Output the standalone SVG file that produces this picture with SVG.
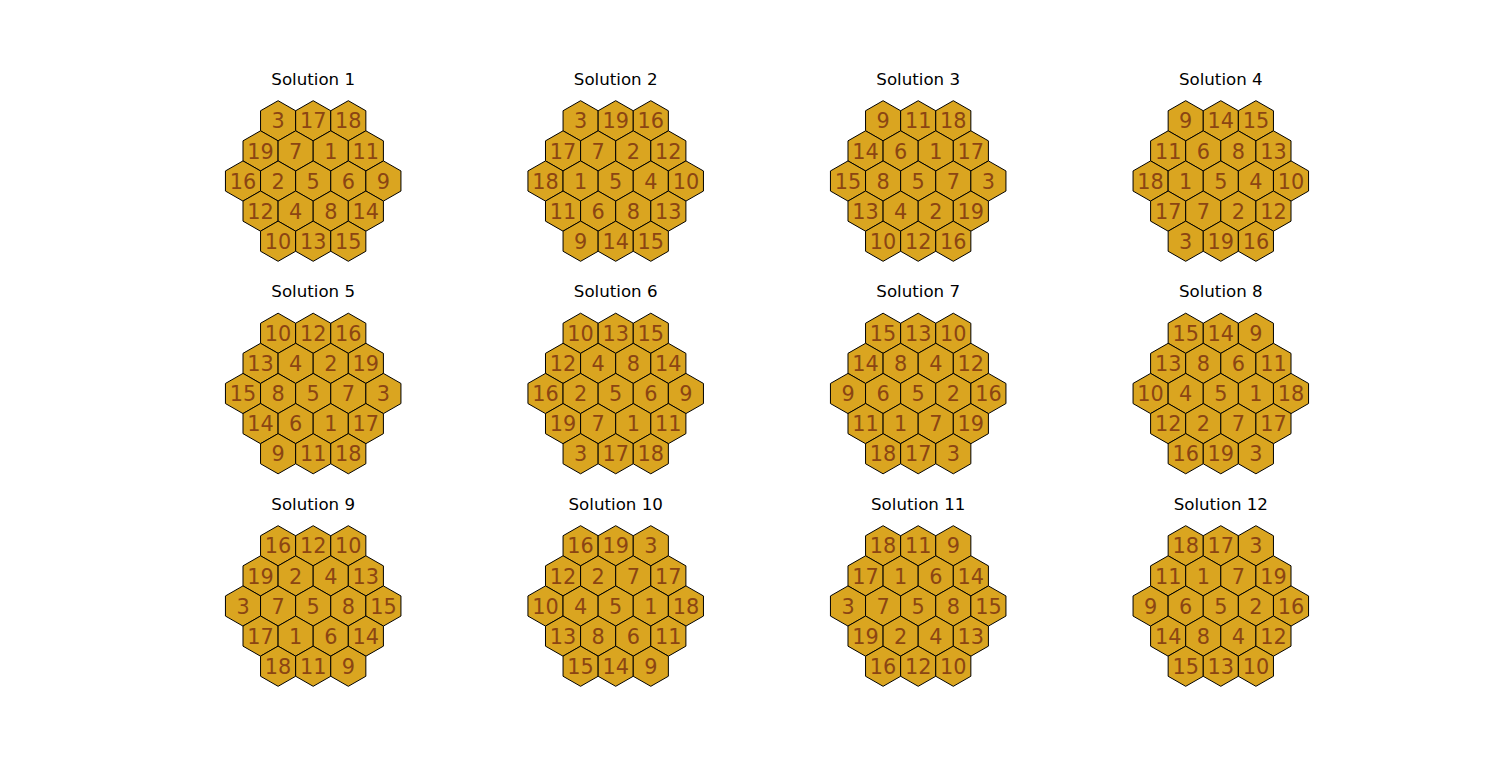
<svg xmlns="http://www.w3.org/2000/svg" xmlns:xlink="http://www.w3.org/1999/xlink" width="1496" height="780" viewBox="0 0 1496 780">
<style>
.t{font-family:"DejaVu Sans",sans-serif;font-size:16.67px;fill:#000;text-anchor:middle}
.c text{font-family:"DejaVu Sans",sans-serif;font-size:20.8px;fill:#8B4513;text-anchor:middle}
.hx{fill:#DAA520;stroke:#000;stroke-width:1;stroke-linejoin:miter}
</style>
<defs>
<polygon id="h" class="hx" points="0,-20.1 17.55,-10.05 17.55,10.05 0,20.1 -17.55,10.05 -17.55,-10.05"/>
</defs>
<rect width="1496" height="780" fill="#fff"/>
<g id="connectors"></g>

<g id="sol1" transform="translate(313.2,181)">
<text class="t" y="-96.4">Solution 1</text>
<g id="s1-1" class="c" transform="translate(-35.1,-60.2)"><use href="#h"/><text y="7.6">3</text></g>
<g id="s1-2" class="c" transform="translate(0,-60.2)"><use href="#h"/><text y="7.6">17</text></g>
<g id="s1-3" class="c" transform="translate(35.1,-60.2)"><use href="#h"/><text y="7.6">18</text></g>
<g id="s1-4" class="c" transform="translate(-52.65,-30.1)"><use href="#h"/><text y="7.6">19</text></g>
<g id="s1-5" class="c" transform="translate(-17.55,-30.1)"><use href="#h"/><text y="7.6">7</text></g>
<g id="s1-6" class="c" transform="translate(17.55,-30.1)"><use href="#h"/><text y="7.6">1</text></g>
<g id="s1-7" class="c" transform="translate(52.65,-30.1)"><use href="#h"/><text y="7.6">11</text></g>
<g id="s1-8" class="c" transform="translate(-70.2,0)"><use href="#h"/><text y="7.6">16</text></g>
<g id="s1-9" class="c" transform="translate(-35.1,0)"><use href="#h"/><text y="7.6">2</text></g>
<g id="s1-10" class="c" transform="translate(0,0)"><use href="#h"/><text y="7.6">5</text></g>
<g id="s1-11" class="c" transform="translate(35.1,0)"><use href="#h"/><text y="7.6">6</text></g>
<g id="s1-12" class="c" transform="translate(70.2,0)"><use href="#h"/><text y="7.6">9</text></g>
<g id="s1-13" class="c" transform="translate(-52.65,30.1)"><use href="#h"/><text y="7.6">12</text></g>
<g id="s1-14" class="c" transform="translate(-17.55,30.1)"><use href="#h"/><text y="7.6">4</text></g>
<g id="s1-15" class="c" transform="translate(17.55,30.1)"><use href="#h"/><text y="7.6">8</text></g>
<g id="s1-16" class="c" transform="translate(52.65,30.1)"><use href="#h"/><text y="7.6">14</text></g>
<g id="s1-17" class="c" transform="translate(-35.1,60.2)"><use href="#h"/><text y="7.6">10</text></g>
<g id="s1-18" class="c" transform="translate(0,60.2)"><use href="#h"/><text y="7.6">13</text></g>
<g id="s1-19" class="c" transform="translate(35.1,60.2)"><use href="#h"/><text y="7.6">15</text></g>
</g>

<g id="sol2" transform="translate(615.7,181)">
<text class="t" y="-96.4">Solution 2</text>
<g id="s2-1" class="c" transform="translate(-35.1,-60.2)"><use href="#h"/><text y="7.6">3</text></g>
<g id="s2-2" class="c" transform="translate(0,-60.2)"><use href="#h"/><text y="7.6">19</text></g>
<g id="s2-3" class="c" transform="translate(35.1,-60.2)"><use href="#h"/><text y="7.6">16</text></g>
<g id="s2-4" class="c" transform="translate(-52.65,-30.1)"><use href="#h"/><text y="7.6">17</text></g>
<g id="s2-5" class="c" transform="translate(-17.55,-30.1)"><use href="#h"/><text y="7.6">7</text></g>
<g id="s2-6" class="c" transform="translate(17.55,-30.1)"><use href="#h"/><text y="7.6">2</text></g>
<g id="s2-7" class="c" transform="translate(52.65,-30.1)"><use href="#h"/><text y="7.6">12</text></g>
<g id="s2-8" class="c" transform="translate(-70.2,0)"><use href="#h"/><text y="7.6">18</text></g>
<g id="s2-9" class="c" transform="translate(-35.1,0)"><use href="#h"/><text y="7.6">1</text></g>
<g id="s2-10" class="c" transform="translate(0,0)"><use href="#h"/><text y="7.6">5</text></g>
<g id="s2-11" class="c" transform="translate(35.1,0)"><use href="#h"/><text y="7.6">4</text></g>
<g id="s2-12" class="c" transform="translate(70.2,0)"><use href="#h"/><text y="7.6">10</text></g>
<g id="s2-13" class="c" transform="translate(-52.65,30.1)"><use href="#h"/><text y="7.6">11</text></g>
<g id="s2-14" class="c" transform="translate(-17.55,30.1)"><use href="#h"/><text y="7.6">6</text></g>
<g id="s2-15" class="c" transform="translate(17.55,30.1)"><use href="#h"/><text y="7.6">8</text></g>
<g id="s2-16" class="c" transform="translate(52.65,30.1)"><use href="#h"/><text y="7.6">13</text></g>
<g id="s2-17" class="c" transform="translate(-35.1,60.2)"><use href="#h"/><text y="7.6">9</text></g>
<g id="s2-18" class="c" transform="translate(0,60.2)"><use href="#h"/><text y="7.6">14</text></g>
<g id="s2-19" class="c" transform="translate(35.1,60.2)"><use href="#h"/><text y="7.6">15</text></g>
</g>

<g id="sol3" transform="translate(918.2,181)">
<text class="t" y="-96.4">Solution 3</text>
<g id="s3-1" class="c" transform="translate(-35.1,-60.2)"><use href="#h"/><text y="7.6">9</text></g>
<g id="s3-2" class="c" transform="translate(0,-60.2)"><use href="#h"/><text y="7.6">11</text></g>
<g id="s3-3" class="c" transform="translate(35.1,-60.2)"><use href="#h"/><text y="7.6">18</text></g>
<g id="s3-4" class="c" transform="translate(-52.65,-30.1)"><use href="#h"/><text y="7.6">14</text></g>
<g id="s3-5" class="c" transform="translate(-17.55,-30.1)"><use href="#h"/><text y="7.6">6</text></g>
<g id="s3-6" class="c" transform="translate(17.55,-30.1)"><use href="#h"/><text y="7.6">1</text></g>
<g id="s3-7" class="c" transform="translate(52.65,-30.1)"><use href="#h"/><text y="7.6">17</text></g>
<g id="s3-8" class="c" transform="translate(-70.2,0)"><use href="#h"/><text y="7.6">15</text></g>
<g id="s3-9" class="c" transform="translate(-35.1,0)"><use href="#h"/><text y="7.6">8</text></g>
<g id="s3-10" class="c" transform="translate(0,0)"><use href="#h"/><text y="7.6">5</text></g>
<g id="s3-11" class="c" transform="translate(35.1,0)"><use href="#h"/><text y="7.6">7</text></g>
<g id="s3-12" class="c" transform="translate(70.2,0)"><use href="#h"/><text y="7.6">3</text></g>
<g id="s3-13" class="c" transform="translate(-52.65,30.1)"><use href="#h"/><text y="7.6">13</text></g>
<g id="s3-14" class="c" transform="translate(-17.55,30.1)"><use href="#h"/><text y="7.6">4</text></g>
<g id="s3-15" class="c" transform="translate(17.55,30.1)"><use href="#h"/><text y="7.6">2</text></g>
<g id="s3-16" class="c" transform="translate(52.65,30.1)"><use href="#h"/><text y="7.6">19</text></g>
<g id="s3-17" class="c" transform="translate(-35.1,60.2)"><use href="#h"/><text y="7.6">10</text></g>
<g id="s3-18" class="c" transform="translate(0,60.2)"><use href="#h"/><text y="7.6">12</text></g>
<g id="s3-19" class="c" transform="translate(35.1,60.2)"><use href="#h"/><text y="7.6">16</text></g>
</g>

<g id="sol4" transform="translate(1220.8,181)">
<text class="t" y="-96.4">Solution 4</text>
<g id="s4-1" class="c" transform="translate(-35.1,-60.2)"><use href="#h"/><text y="7.6">9</text></g>
<g id="s4-2" class="c" transform="translate(0,-60.2)"><use href="#h"/><text y="7.6">14</text></g>
<g id="s4-3" class="c" transform="translate(35.1,-60.2)"><use href="#h"/><text y="7.6">15</text></g>
<g id="s4-4" class="c" transform="translate(-52.65,-30.1)"><use href="#h"/><text y="7.6">11</text></g>
<g id="s4-5" class="c" transform="translate(-17.55,-30.1)"><use href="#h"/><text y="7.6">6</text></g>
<g id="s4-6" class="c" transform="translate(17.55,-30.1)"><use href="#h"/><text y="7.6">8</text></g>
<g id="s4-7" class="c" transform="translate(52.65,-30.1)"><use href="#h"/><text y="7.6">13</text></g>
<g id="s4-8" class="c" transform="translate(-70.2,0)"><use href="#h"/><text y="7.6">18</text></g>
<g id="s4-9" class="c" transform="translate(-35.1,0)"><use href="#h"/><text y="7.6">1</text></g>
<g id="s4-10" class="c" transform="translate(0,0)"><use href="#h"/><text y="7.6">5</text></g>
<g id="s4-11" class="c" transform="translate(35.1,0)"><use href="#h"/><text y="7.6">4</text></g>
<g id="s4-12" class="c" transform="translate(70.2,0)"><use href="#h"/><text y="7.6">10</text></g>
<g id="s4-13" class="c" transform="translate(-52.65,30.1)"><use href="#h"/><text y="7.6">17</text></g>
<g id="s4-14" class="c" transform="translate(-17.55,30.1)"><use href="#h"/><text y="7.6">7</text></g>
<g id="s4-15" class="c" transform="translate(17.55,30.1)"><use href="#h"/><text y="7.6">2</text></g>
<g id="s4-16" class="c" transform="translate(52.65,30.1)"><use href="#h"/><text y="7.6">12</text></g>
<g id="s4-17" class="c" transform="translate(-35.1,60.2)"><use href="#h"/><text y="7.6">3</text></g>
<g id="s4-18" class="c" transform="translate(0,60.2)"><use href="#h"/><text y="7.6">19</text></g>
<g id="s4-19" class="c" transform="translate(35.1,60.2)"><use href="#h"/><text y="7.6">16</text></g>
</g>

<g id="sol5" transform="translate(313.2,393.5)">
<text class="t" y="-96.4">Solution 5</text>
<g id="s5-1" class="c" transform="translate(-35.1,-60.2)"><use href="#h"/><text y="7.6">10</text></g>
<g id="s5-2" class="c" transform="translate(0,-60.2)"><use href="#h"/><text y="7.6">12</text></g>
<g id="s5-3" class="c" transform="translate(35.1,-60.2)"><use href="#h"/><text y="7.6">16</text></g>
<g id="s5-4" class="c" transform="translate(-52.65,-30.1)"><use href="#h"/><text y="7.6">13</text></g>
<g id="s5-5" class="c" transform="translate(-17.55,-30.1)"><use href="#h"/><text y="7.6">4</text></g>
<g id="s5-6" class="c" transform="translate(17.55,-30.1)"><use href="#h"/><text y="7.6">2</text></g>
<g id="s5-7" class="c" transform="translate(52.65,-30.1)"><use href="#h"/><text y="7.6">19</text></g>
<g id="s5-8" class="c" transform="translate(-70.2,0)"><use href="#h"/><text y="7.6">15</text></g>
<g id="s5-9" class="c" transform="translate(-35.1,0)"><use href="#h"/><text y="7.6">8</text></g>
<g id="s5-10" class="c" transform="translate(0,0)"><use href="#h"/><text y="7.6">5</text></g>
<g id="s5-11" class="c" transform="translate(35.1,0)"><use href="#h"/><text y="7.6">7</text></g>
<g id="s5-12" class="c" transform="translate(70.2,0)"><use href="#h"/><text y="7.6">3</text></g>
<g id="s5-13" class="c" transform="translate(-52.65,30.1)"><use href="#h"/><text y="7.6">14</text></g>
<g id="s5-14" class="c" transform="translate(-17.55,30.1)"><use href="#h"/><text y="7.6">6</text></g>
<g id="s5-15" class="c" transform="translate(17.55,30.1)"><use href="#h"/><text y="7.6">1</text></g>
<g id="s5-16" class="c" transform="translate(52.65,30.1)"><use href="#h"/><text y="7.6">17</text></g>
<g id="s5-17" class="c" transform="translate(-35.1,60.2)"><use href="#h"/><text y="7.6">9</text></g>
<g id="s5-18" class="c" transform="translate(0,60.2)"><use href="#h"/><text y="7.6">11</text></g>
<g id="s5-19" class="c" transform="translate(35.1,60.2)"><use href="#h"/><text y="7.6">18</text></g>
</g>

<g id="sol6" transform="translate(615.7,393.5)">
<text class="t" y="-96.4">Solution 6</text>
<g id="s6-1" class="c" transform="translate(-35.1,-60.2)"><use href="#h"/><text y="7.6">10</text></g>
<g id="s6-2" class="c" transform="translate(0,-60.2)"><use href="#h"/><text y="7.6">13</text></g>
<g id="s6-3" class="c" transform="translate(35.1,-60.2)"><use href="#h"/><text y="7.6">15</text></g>
<g id="s6-4" class="c" transform="translate(-52.65,-30.1)"><use href="#h"/><text y="7.6">12</text></g>
<g id="s6-5" class="c" transform="translate(-17.55,-30.1)"><use href="#h"/><text y="7.6">4</text></g>
<g id="s6-6" class="c" transform="translate(17.55,-30.1)"><use href="#h"/><text y="7.6">8</text></g>
<g id="s6-7" class="c" transform="translate(52.65,-30.1)"><use href="#h"/><text y="7.6">14</text></g>
<g id="s6-8" class="c" transform="translate(-70.2,0)"><use href="#h"/><text y="7.6">16</text></g>
<g id="s6-9" class="c" transform="translate(-35.1,0)"><use href="#h"/><text y="7.6">2</text></g>
<g id="s6-10" class="c" transform="translate(0,0)"><use href="#h"/><text y="7.6">5</text></g>
<g id="s6-11" class="c" transform="translate(35.1,0)"><use href="#h"/><text y="7.6">6</text></g>
<g id="s6-12" class="c" transform="translate(70.2,0)"><use href="#h"/><text y="7.6">9</text></g>
<g id="s6-13" class="c" transform="translate(-52.65,30.1)"><use href="#h"/><text y="7.6">19</text></g>
<g id="s6-14" class="c" transform="translate(-17.55,30.1)"><use href="#h"/><text y="7.6">7</text></g>
<g id="s6-15" class="c" transform="translate(17.55,30.1)"><use href="#h"/><text y="7.6">1</text></g>
<g id="s6-16" class="c" transform="translate(52.65,30.1)"><use href="#h"/><text y="7.6">11</text></g>
<g id="s6-17" class="c" transform="translate(-35.1,60.2)"><use href="#h"/><text y="7.6">3</text></g>
<g id="s6-18" class="c" transform="translate(0,60.2)"><use href="#h"/><text y="7.6">17</text></g>
<g id="s6-19" class="c" transform="translate(35.1,60.2)"><use href="#h"/><text y="7.6">18</text></g>
</g>

<g id="sol7" transform="translate(918.2,393.5)">
<text class="t" y="-96.4">Solution 7</text>
<g id="s7-1" class="c" transform="translate(-35.1,-60.2)"><use href="#h"/><text y="7.6">15</text></g>
<g id="s7-2" class="c" transform="translate(0,-60.2)"><use href="#h"/><text y="7.6">13</text></g>
<g id="s7-3" class="c" transform="translate(35.1,-60.2)"><use href="#h"/><text y="7.6">10</text></g>
<g id="s7-4" class="c" transform="translate(-52.65,-30.1)"><use href="#h"/><text y="7.6">14</text></g>
<g id="s7-5" class="c" transform="translate(-17.55,-30.1)"><use href="#h"/><text y="7.6">8</text></g>
<g id="s7-6" class="c" transform="translate(17.55,-30.1)"><use href="#h"/><text y="7.6">4</text></g>
<g id="s7-7" class="c" transform="translate(52.65,-30.1)"><use href="#h"/><text y="7.6">12</text></g>
<g id="s7-8" class="c" transform="translate(-70.2,0)"><use href="#h"/><text y="7.6">9</text></g>
<g id="s7-9" class="c" transform="translate(-35.1,0)"><use href="#h"/><text y="7.6">6</text></g>
<g id="s7-10" class="c" transform="translate(0,0)"><use href="#h"/><text y="7.6">5</text></g>
<g id="s7-11" class="c" transform="translate(35.1,0)"><use href="#h"/><text y="7.6">2</text></g>
<g id="s7-12" class="c" transform="translate(70.2,0)"><use href="#h"/><text y="7.6">16</text></g>
<g id="s7-13" class="c" transform="translate(-52.65,30.1)"><use href="#h"/><text y="7.6">11</text></g>
<g id="s7-14" class="c" transform="translate(-17.55,30.1)"><use href="#h"/><text y="7.6">1</text></g>
<g id="s7-15" class="c" transform="translate(17.55,30.1)"><use href="#h"/><text y="7.6">7</text></g>
<g id="s7-16" class="c" transform="translate(52.65,30.1)"><use href="#h"/><text y="7.6">19</text></g>
<g id="s7-17" class="c" transform="translate(-35.1,60.2)"><use href="#h"/><text y="7.6">18</text></g>
<g id="s7-18" class="c" transform="translate(0,60.2)"><use href="#h"/><text y="7.6">17</text></g>
<g id="s7-19" class="c" transform="translate(35.1,60.2)"><use href="#h"/><text y="7.6">3</text></g>
</g>

<g id="sol8" transform="translate(1220.8,393.5)">
<text class="t" y="-96.4">Solution 8</text>
<g id="s8-1" class="c" transform="translate(-35.1,-60.2)"><use href="#h"/><text y="7.6">15</text></g>
<g id="s8-2" class="c" transform="translate(0,-60.2)"><use href="#h"/><text y="7.6">14</text></g>
<g id="s8-3" class="c" transform="translate(35.1,-60.2)"><use href="#h"/><text y="7.6">9</text></g>
<g id="s8-4" class="c" transform="translate(-52.65,-30.1)"><use href="#h"/><text y="7.6">13</text></g>
<g id="s8-5" class="c" transform="translate(-17.55,-30.1)"><use href="#h"/><text y="7.6">8</text></g>
<g id="s8-6" class="c" transform="translate(17.55,-30.1)"><use href="#h"/><text y="7.6">6</text></g>
<g id="s8-7" class="c" transform="translate(52.65,-30.1)"><use href="#h"/><text y="7.6">11</text></g>
<g id="s8-8" class="c" transform="translate(-70.2,0)"><use href="#h"/><text y="7.6">10</text></g>
<g id="s8-9" class="c" transform="translate(-35.1,0)"><use href="#h"/><text y="7.6">4</text></g>
<g id="s8-10" class="c" transform="translate(0,0)"><use href="#h"/><text y="7.6">5</text></g>
<g id="s8-11" class="c" transform="translate(35.1,0)"><use href="#h"/><text y="7.6">1</text></g>
<g id="s8-12" class="c" transform="translate(70.2,0)"><use href="#h"/><text y="7.6">18</text></g>
<g id="s8-13" class="c" transform="translate(-52.65,30.1)"><use href="#h"/><text y="7.6">12</text></g>
<g id="s8-14" class="c" transform="translate(-17.55,30.1)"><use href="#h"/><text y="7.6">2</text></g>
<g id="s8-15" class="c" transform="translate(17.55,30.1)"><use href="#h"/><text y="7.6">7</text></g>
<g id="s8-16" class="c" transform="translate(52.65,30.1)"><use href="#h"/><text y="7.6">17</text></g>
<g id="s8-17" class="c" transform="translate(-35.1,60.2)"><use href="#h"/><text y="7.6">16</text></g>
<g id="s8-18" class="c" transform="translate(0,60.2)"><use href="#h"/><text y="7.6">19</text></g>
<g id="s8-19" class="c" transform="translate(35.1,60.2)"><use href="#h"/><text y="7.6">3</text></g>
</g>

<g id="sol9" transform="translate(313.2,606)">
<text class="t" y="-96.4">Solution 9</text>
<g id="s9-1" class="c" transform="translate(-35.1,-60.2)"><use href="#h"/><text y="7.6">16</text></g>
<g id="s9-2" class="c" transform="translate(0,-60.2)"><use href="#h"/><text y="7.6">12</text></g>
<g id="s9-3" class="c" transform="translate(35.1,-60.2)"><use href="#h"/><text y="7.6">10</text></g>
<g id="s9-4" class="c" transform="translate(-52.65,-30.1)"><use href="#h"/><text y="7.6">19</text></g>
<g id="s9-5" class="c" transform="translate(-17.55,-30.1)"><use href="#h"/><text y="7.6">2</text></g>
<g id="s9-6" class="c" transform="translate(17.55,-30.1)"><use href="#h"/><text y="7.6">4</text></g>
<g id="s9-7" class="c" transform="translate(52.65,-30.1)"><use href="#h"/><text y="7.6">13</text></g>
<g id="s9-8" class="c" transform="translate(-70.2,0)"><use href="#h"/><text y="7.6">3</text></g>
<g id="s9-9" class="c" transform="translate(-35.1,0)"><use href="#h"/><text y="7.6">7</text></g>
<g id="s9-10" class="c" transform="translate(0,0)"><use href="#h"/><text y="7.6">5</text></g>
<g id="s9-11" class="c" transform="translate(35.1,0)"><use href="#h"/><text y="7.6">8</text></g>
<g id="s9-12" class="c" transform="translate(70.2,0)"><use href="#h"/><text y="7.6">15</text></g>
<g id="s9-13" class="c" transform="translate(-52.65,30.1)"><use href="#h"/><text y="7.6">17</text></g>
<g id="s9-14" class="c" transform="translate(-17.55,30.1)"><use href="#h"/><text y="7.6">1</text></g>
<g id="s9-15" class="c" transform="translate(17.55,30.1)"><use href="#h"/><text y="7.6">6</text></g>
<g id="s9-16" class="c" transform="translate(52.65,30.1)"><use href="#h"/><text y="7.6">14</text></g>
<g id="s9-17" class="c" transform="translate(-35.1,60.2)"><use href="#h"/><text y="7.6">18</text></g>
<g id="s9-18" class="c" transform="translate(0,60.2)"><use href="#h"/><text y="7.6">11</text></g>
<g id="s9-19" class="c" transform="translate(35.1,60.2)"><use href="#h"/><text y="7.6">9</text></g>
</g>

<g id="sol10" transform="translate(615.7,606)">
<text class="t" y="-96.4">Solution 10</text>
<g id="s10-1" class="c" transform="translate(-35.1,-60.2)"><use href="#h"/><text y="7.6">16</text></g>
<g id="s10-2" class="c" transform="translate(0,-60.2)"><use href="#h"/><text y="7.6">19</text></g>
<g id="s10-3" class="c" transform="translate(35.1,-60.2)"><use href="#h"/><text y="7.6">3</text></g>
<g id="s10-4" class="c" transform="translate(-52.65,-30.1)"><use href="#h"/><text y="7.6">12</text></g>
<g id="s10-5" class="c" transform="translate(-17.55,-30.1)"><use href="#h"/><text y="7.6">2</text></g>
<g id="s10-6" class="c" transform="translate(17.55,-30.1)"><use href="#h"/><text y="7.6">7</text></g>
<g id="s10-7" class="c" transform="translate(52.65,-30.1)"><use href="#h"/><text y="7.6">17</text></g>
<g id="s10-8" class="c" transform="translate(-70.2,0)"><use href="#h"/><text y="7.6">10</text></g>
<g id="s10-9" class="c" transform="translate(-35.1,0)"><use href="#h"/><text y="7.6">4</text></g>
<g id="s10-10" class="c" transform="translate(0,0)"><use href="#h"/><text y="7.6">5</text></g>
<g id="s10-11" class="c" transform="translate(35.1,0)"><use href="#h"/><text y="7.6">1</text></g>
<g id="s10-12" class="c" transform="translate(70.2,0)"><use href="#h"/><text y="7.6">18</text></g>
<g id="s10-13" class="c" transform="translate(-52.65,30.1)"><use href="#h"/><text y="7.6">13</text></g>
<g id="s10-14" class="c" transform="translate(-17.55,30.1)"><use href="#h"/><text y="7.6">8</text></g>
<g id="s10-15" class="c" transform="translate(17.55,30.1)"><use href="#h"/><text y="7.6">6</text></g>
<g id="s10-16" class="c" transform="translate(52.65,30.1)"><use href="#h"/><text y="7.6">11</text></g>
<g id="s10-17" class="c" transform="translate(-35.1,60.2)"><use href="#h"/><text y="7.6">15</text></g>
<g id="s10-18" class="c" transform="translate(0,60.2)"><use href="#h"/><text y="7.6">14</text></g>
<g id="s10-19" class="c" transform="translate(35.1,60.2)"><use href="#h"/><text y="7.6">9</text></g>
</g>

<g id="sol11" transform="translate(918.2,606)">
<text class="t" y="-96.4">Solution 11</text>
<g id="s11-1" class="c" transform="translate(-35.1,-60.2)"><use href="#h"/><text y="7.6">18</text></g>
<g id="s11-2" class="c" transform="translate(0,-60.2)"><use href="#h"/><text y="7.6">11</text></g>
<g id="s11-3" class="c" transform="translate(35.1,-60.2)"><use href="#h"/><text y="7.6">9</text></g>
<g id="s11-4" class="c" transform="translate(-52.65,-30.1)"><use href="#h"/><text y="7.6">17</text></g>
<g id="s11-5" class="c" transform="translate(-17.55,-30.1)"><use href="#h"/><text y="7.6">1</text></g>
<g id="s11-6" class="c" transform="translate(17.55,-30.1)"><use href="#h"/><text y="7.6">6</text></g>
<g id="s11-7" class="c" transform="translate(52.65,-30.1)"><use href="#h"/><text y="7.6">14</text></g>
<g id="s11-8" class="c" transform="translate(-70.2,0)"><use href="#h"/><text y="7.6">3</text></g>
<g id="s11-9" class="c" transform="translate(-35.1,0)"><use href="#h"/><text y="7.6">7</text></g>
<g id="s11-10" class="c" transform="translate(0,0)"><use href="#h"/><text y="7.6">5</text></g>
<g id="s11-11" class="c" transform="translate(35.1,0)"><use href="#h"/><text y="7.6">8</text></g>
<g id="s11-12" class="c" transform="translate(70.2,0)"><use href="#h"/><text y="7.6">15</text></g>
<g id="s11-13" class="c" transform="translate(-52.65,30.1)"><use href="#h"/><text y="7.6">19</text></g>
<g id="s11-14" class="c" transform="translate(-17.55,30.1)"><use href="#h"/><text y="7.6">2</text></g>
<g id="s11-15" class="c" transform="translate(17.55,30.1)"><use href="#h"/><text y="7.6">4</text></g>
<g id="s11-16" class="c" transform="translate(52.65,30.1)"><use href="#h"/><text y="7.6">13</text></g>
<g id="s11-17" class="c" transform="translate(-35.1,60.2)"><use href="#h"/><text y="7.6">16</text></g>
<g id="s11-18" class="c" transform="translate(0,60.2)"><use href="#h"/><text y="7.6">12</text></g>
<g id="s11-19" class="c" transform="translate(35.1,60.2)"><use href="#h"/><text y="7.6">10</text></g>
</g>

<g id="sol12" transform="translate(1220.8,606)">
<text class="t" y="-96.4">Solution 12</text>
<g id="s12-1" class="c" transform="translate(-35.1,-60.2)"><use href="#h"/><text y="7.6">18</text></g>
<g id="s12-2" class="c" transform="translate(0,-60.2)"><use href="#h"/><text y="7.6">17</text></g>
<g id="s12-3" class="c" transform="translate(35.1,-60.2)"><use href="#h"/><text y="7.6">3</text></g>
<g id="s12-4" class="c" transform="translate(-52.65,-30.1)"><use href="#h"/><text y="7.6">11</text></g>
<g id="s12-5" class="c" transform="translate(-17.55,-30.1)"><use href="#h"/><text y="7.6">1</text></g>
<g id="s12-6" class="c" transform="translate(17.55,-30.1)"><use href="#h"/><text y="7.6">7</text></g>
<g id="s12-7" class="c" transform="translate(52.65,-30.1)"><use href="#h"/><text y="7.6">19</text></g>
<g id="s12-8" class="c" transform="translate(-70.2,0)"><use href="#h"/><text y="7.6">9</text></g>
<g id="s12-9" class="c" transform="translate(-35.1,0)"><use href="#h"/><text y="7.6">6</text></g>
<g id="s12-10" class="c" transform="translate(0,0)"><use href="#h"/><text y="7.6">5</text></g>
<g id="s12-11" class="c" transform="translate(35.1,0)"><use href="#h"/><text y="7.6">2</text></g>
<g id="s12-12" class="c" transform="translate(70.2,0)"><use href="#h"/><text y="7.6">16</text></g>
<g id="s12-13" class="c" transform="translate(-52.65,30.1)"><use href="#h"/><text y="7.6">14</text></g>
<g id="s12-14" class="c" transform="translate(-17.55,30.1)"><use href="#h"/><text y="7.6">8</text></g>
<g id="s12-15" class="c" transform="translate(17.55,30.1)"><use href="#h"/><text y="7.6">4</text></g>
<g id="s12-16" class="c" transform="translate(52.65,30.1)"><use href="#h"/><text y="7.6">12</text></g>
<g id="s12-17" class="c" transform="translate(-35.1,60.2)"><use href="#h"/><text y="7.6">15</text></g>
<g id="s12-18" class="c" transform="translate(0,60.2)"><use href="#h"/><text y="7.6">13</text></g>
<g id="s12-19" class="c" transform="translate(35.1,60.2)"><use href="#h"/><text y="7.6">10</text></g>
</g>
</svg>
